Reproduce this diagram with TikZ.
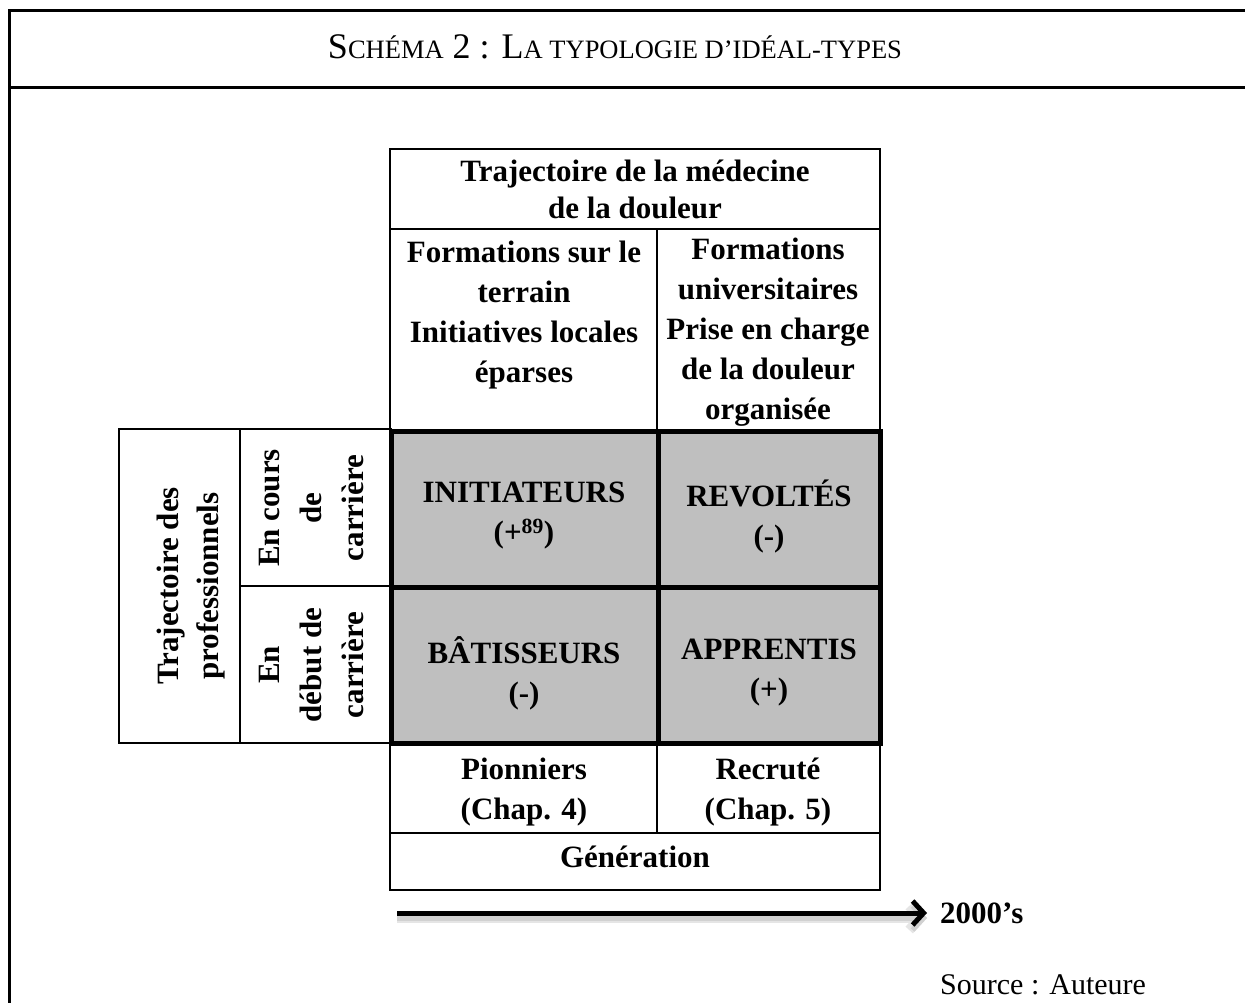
\documentclass[tikz,border=0pt]{standalone}
\usepackage{fontspec}
\setmainfont{Liberation Serif}
\usetikzlibrary{arrows.meta}
\newcommand\mysc[1]{{\fontsize{26.5}{30}\selectfont #1}}
\tikzset{
  tline/.style={line width=2pt},
  kline/.style={line width=5pt},
  fline/.style={line width=3pt},
  celltxt/.style={font=\bfseries\fontsize{31}{40}\selectfont, align=center, inner sep=0pt},
  sidetxt/.style={font=\bfseries\fontsize{31}{42}\selectfont, align=center, inner sep=0pt, rotate=90},
}
\begin{document}
\begin{tikzpicture}[x=1pt,y=-1pt]
\useasboundingbox (0,0) rectangle (1245,1003);
% frame
\draw[fline] (9,1003) -- (9,11) -- (1245,11);
\draw[fline] (9,88) -- (1245,88);
\node[inner sep=0pt, font=\fontsize{36}{40}\selectfont] (title) at (615,47)
  {S\mysc{CHÉMA} 2 : L\mysc{A TYPOLOGIE D’IDÉAL-TYPES}};
% header cells
\draw[tline] (390,149) rectangle (880,431);
\draw[tline] (390,229) -- (880,229);
\draw[tline] (657,229) -- (657,431);
% left cells
\draw[tline] (119,429) rectangle (391,743);
\draw[tline] (240,429) -- (240,743);
\draw[tline] (240,586) -- (391,586);
% bottom cells
\draw[tline] (390,743) rectangle (880,890);
\draw[tline] (390,833) -- (880,833);
\draw[tline] (657,743) -- (657,833);
% grey block
\draw[kline, fill=black!25] (391,431) rectangle (880,743);
\draw[kline] (658,431) -- (658,743);
\draw[kline] (391,587) -- (880,587);
% texts
\node[celltxt, font=\bfseries\fontsize{31}{37}\selectfont] (hdr) at (635,189) {Trajectoire de la médecine\\de la douleur};
\node[celltxt, anchor=north] (colA) at (524,241) {Formations sur le\\terrain\\Initiatives locales\\éparses};
\node[celltxt] (colB) at (768,332) {Formations\\universitaires\\Prise en charge\\de la douleur\\organisée};
\node[celltxt] (ini) at (524,516) {INITIATEURS\\(+\textsuperscript{89})};
\node[celltxt] (rev) at (769,516) {REVOLTÉS\\(-)};
\node[celltxt] (bat) at (524,673) {BÂTISSEURS\\(-)};
\node[celltxt] (app) at (769,673) {APPRENTIS\\(+)};
\node[celltxt] (pion) at (524,792) {Pionniers\\(Chap. 4)};
\node[celltxt] (recr) at (768,792) {Recruté\\(Chap. 5)};
\node[celltxt] (gen) at (635,857) {Génération};
\node[sidetxt, font=\bfseries\fontsize{31}{40}\selectfont] (traj) at (191,586) {Trajectoire des\\professionnels};
\node[sidetxt] (cours) at (311,508) {En cours\\de\\carrière};
\node[sidetxt] (debut) at (311,665) {En\\début de\\carrière};
% arrow
\node[anchor=west, inner sep=0pt, font=\bfseries\fontsize{31}{36}\selectfont] (yr) at (940,913) {2000’s};
\coordinate (as) at (397,913);
\draw[line width=5pt, -{Straight Barb[length=11pt,width=24pt]},
      preaction={draw=black!10, line width=10pt, transform canvas={yshift=-5pt}},
      preaction={draw=black!18, line width=5pt, transform canvas={yshift=-5pt}}]
      (as) -- ([xshift=-13pt]yr.west);
\node[anchor=west, inner sep=0pt, font=\fontsize{30}{36}\selectfont] (src) at (940,985) {Source : Auteure};
\end{tikzpicture}
\end{document}
